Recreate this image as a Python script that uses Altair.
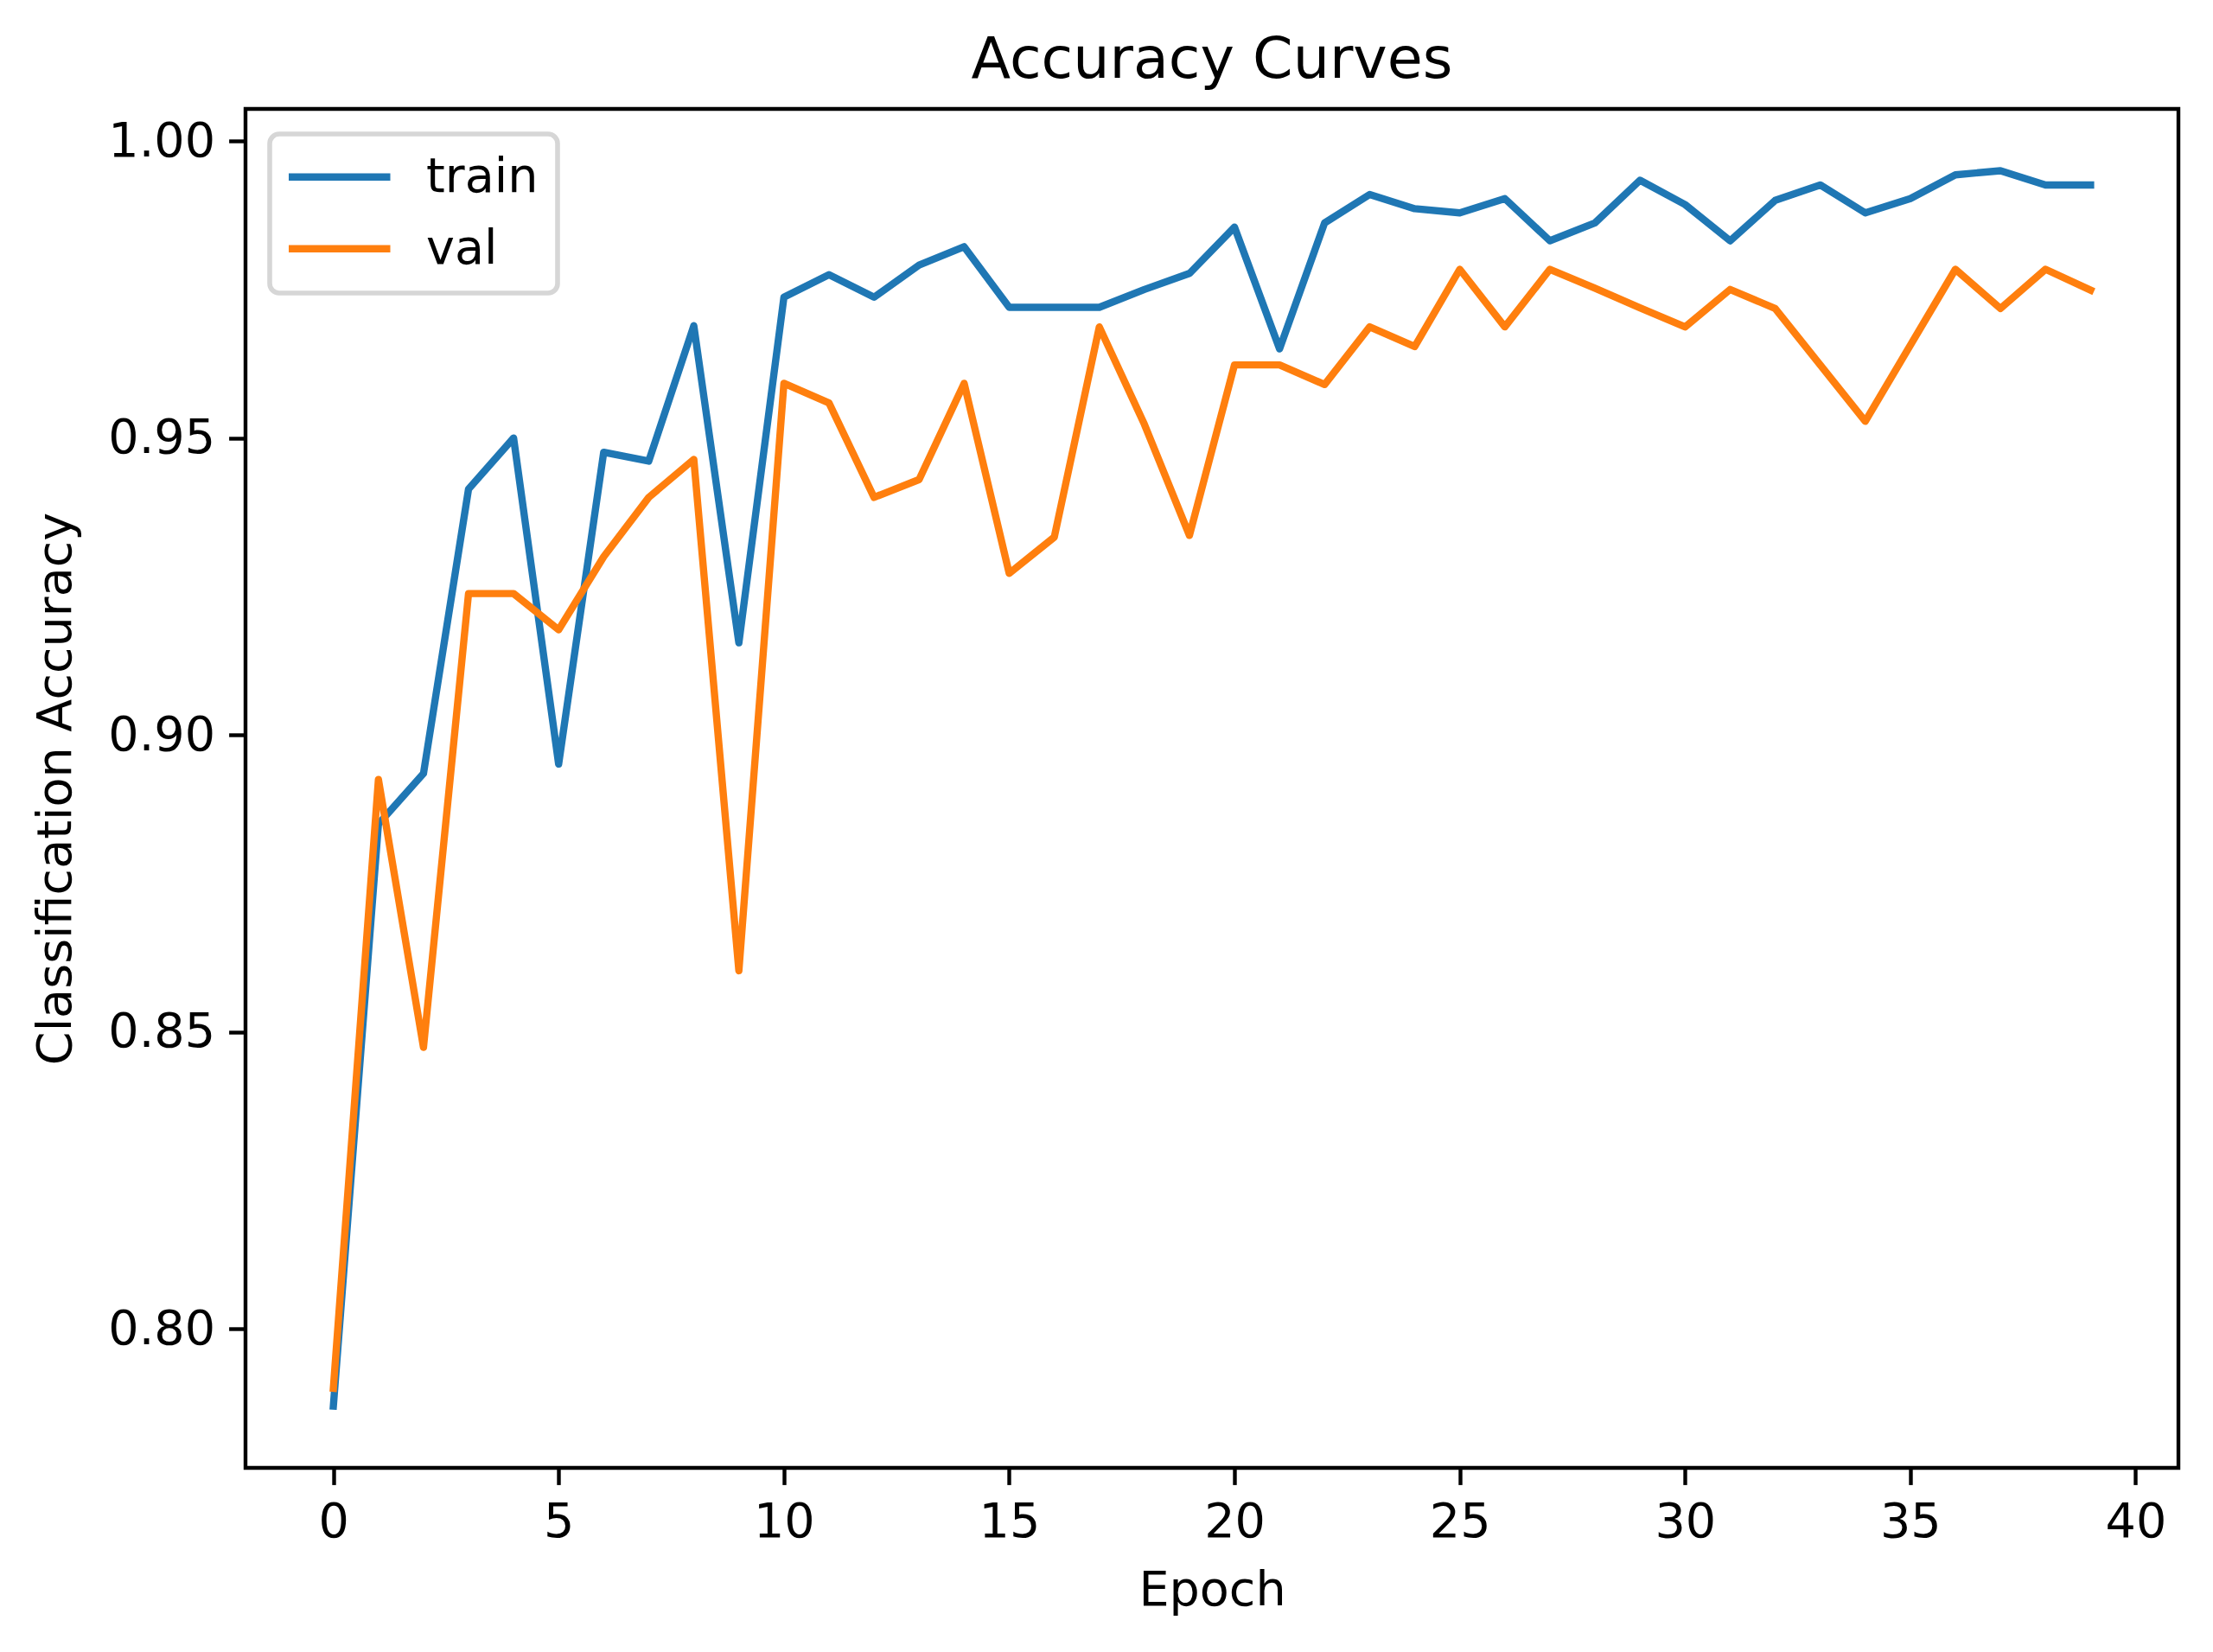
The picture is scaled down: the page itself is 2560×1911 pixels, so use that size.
import altair as alt
import pandas as pd

epochs = list(range(40))
train_acc = [0.787, 0.885, 0.8935, 0.9414, 0.950, 0.8951, 0.9476, 0.9461, 0.9689, 0.9155,
             0.9737, 0.9775, 0.9737, 0.9791, 0.9822, 0.972, 0.972, 0.972, 0.975, 0.9777,
             0.9855, 0.965, 0.9862, 0.991, 0.9886, 0.9879, 0.9903, 0.9832, 0.9862, 0.9934,
             0.9893, 0.9832, 0.990, 0.9926, 0.9879, 0.9903, 0.9943, 0.995, 0.9926, 0.9926]
val_acc = [0.790, 0.8925, 0.8474, 0.9238, 0.9238, 0.9177, 0.930, 0.940, 0.9464, 0.8603,
           0.9592, 0.9559, 0.940, 0.943, 0.9592, 0.9272, 0.9333, 0.9687, 0.9523, 0.9336,
           0.9623, 0.9623, 0.959, 0.9687, 0.9654, 0.9784, 0.9687, 0.9784, 0.9752, 0.9719,
           0.9687, 0.975, 0.9718, 0.9623, 0.9528, 0.9656, 0.9784, 0.9718, 0.9784, 0.9749]
series_names = ["train", "val"]
series_colors = ["#1f77b4", "#ff7f0e"]
x_ticks = [0, 5, 10, 15, 20, 25, 30, 35, 40]
y_ticks = [0.80, 0.85, 0.90, 0.95, 1.00]

df = pd.DataFrame({
    "epoch": epochs + epochs,
    "acc": train_acc + val_acc,
    "series": ["train"] * len(epochs) + ["val"] * len(epochs),
})

FONT = "DejaVu Sans"
FS = 55.6
LW = 8.4

chart = alt.Chart(df).mark_line(
    strokeWidth=LW, strokeCap="square", strokeJoin="round"
).encode(
    x=alt.X("epoch:Q",
            scale=alt.Scale(domain=[-1.95, 40.95], nice=False, zero=False),
            axis=alt.Axis(values=x_ticks, format="d", title="Epoch", titlePadding=23)),
    y=alt.Y("acc:Q",
            scale=alt.Scale(domain=[0.7766, 1.0054], nice=False, zero=False),
            axis=alt.Axis(values=y_ticks, format=".2f", title="Classification Accuracy",
                          titlePadding=31)),
    color=alt.Color("series:N",
                    scale=alt.Scale(domain=series_names, range=series_colors),
                    legend=alt.Legend(
                        title=None, orient="none", legendX=28, legendY=29,
                        symbolType="stroke", symbolSize=14641, symbolStrokeWidth=LW,
                        symbolOffset=-8,
                        clipHeight=FS, labelFontSize=FS, labelFont=FONT, labelColor="black",
                        labelOffset=37, cornerRadius=11, fillColor="white",
                        strokeColor="#d6d6d6")),
).properties(
    width=2236, height=1572,
    background="white",
    title=alt.TitleParams("Accuracy Curves", fontSize=66.7, fontWeight="normal",
                          font=FONT, color="black", anchor="middle", offset=22),
    autosize=alt.AutoSizeParams(type="none"),
    padding={"left": 276, "top": 118, "right": 32, "bottom": 205},
).configure_axis(
    labelFontSize=FS, titleFontSize=FS, labelFont=FONT, titleFont=FONT,
    labelColor="black", titleColor="black", titleFontWeight="normal",
    tickColor="black", tickWidth=4.4, tickSize=19.4, domain=False, grid=False,
    labelPadding=16,
).configure_legend(
    rowPadding=26, padding=22, strokeWidth=5.6,
).configure_view(
    stroke="black", strokeWidth=4.4
)

chart.save("out.html", embed_options={"renderer": "svg", "actions": False})
